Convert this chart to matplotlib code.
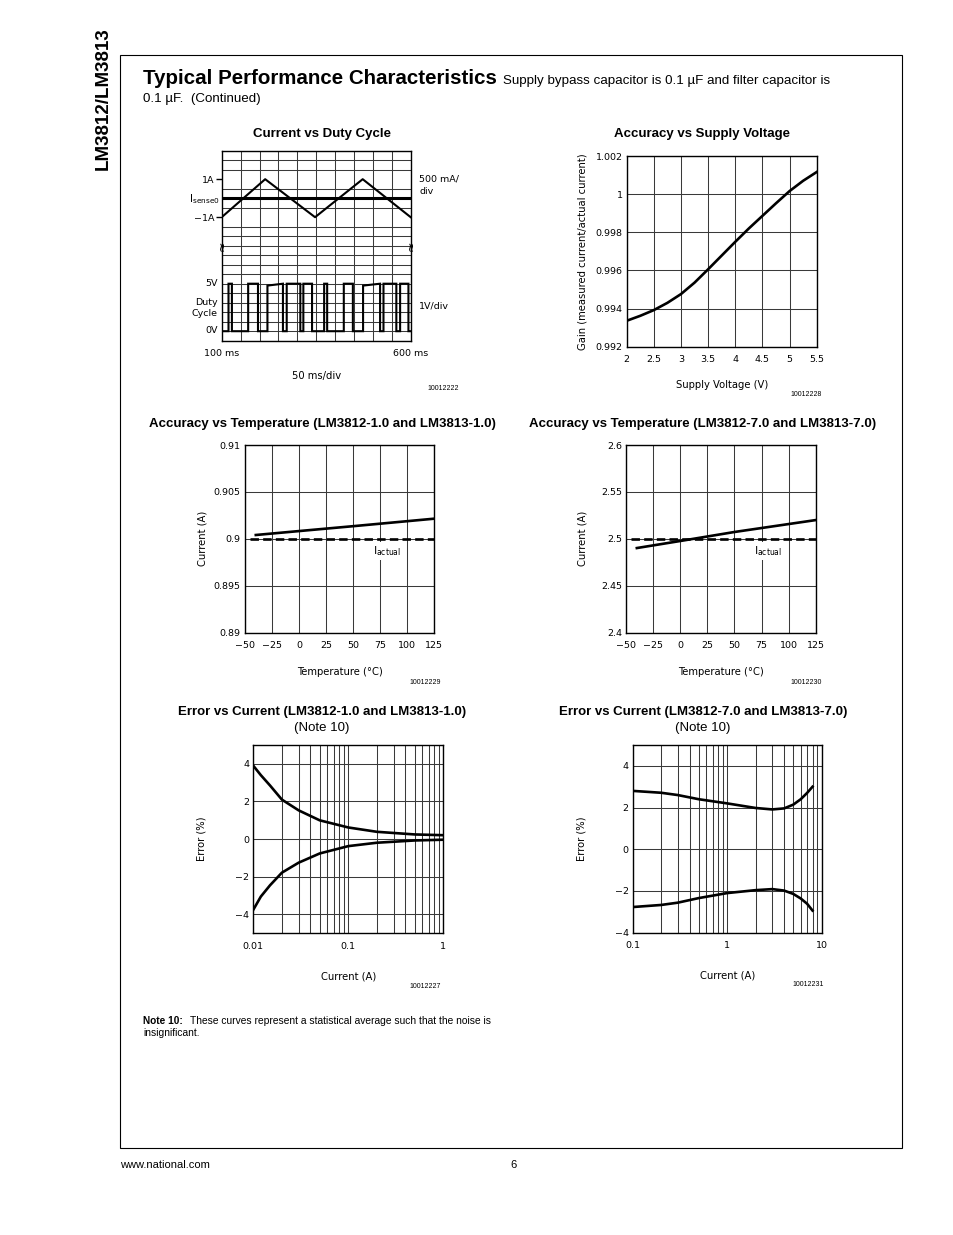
import numpy as np
import matplotlib.pyplot as plt
from matplotlib.patches import Rectangle
from matplotlib.transforms import blended_transform_factory

W, H = 954, 1235

# ---- Current vs Duty Cycle (time in ms, current in A, voltage in V) ----
tri_t = [100, 215, 347, 473, 600]
tri_i = [-1, 1, -1, 1, -1]
pulse_rise = [118, 170, 221, 272, 316, 371, 423, 474, 528, 572]
pulse_fall = [127, 196, 262, 308, 339, 379, 447, 519, 562, 594]
pulse_v_start = [5, 5, 4.8, 5, 5, 5, 5, 4.8, 5, 5]
pulse_v_end = [5, 5, 5, 5, 5, 5, 5, 5, 5, 5]

# ---- Accuracy vs Supply Voltage ----
supply_v = [2, 2.25, 2.5, 2.75, 3, 3.25, 3.5, 3.75, 4, 4.25, 4.5, 4.75, 5, 5.25, 5.5]
gain = [0.99336, 0.99362, 0.99392, 0.99430, 0.99476, 0.99536, 0.99606, 0.99678,
        0.99750, 0.99820, 0.99886, 0.99952, 1.00016, 1.00070, 1.00116]

# ---- Accuracy vs Temperature ----
temp = [-40, 0, 50, 125]
cur_t1 = [0.90041, 0.90083, 0.90135, 0.90215]
cur_t7 = [2.4902, 2.4977, 2.5073, 2.5200]
actual_t = [-45, 125]
actual_1 = 0.9
actual_7 = 2.5

# ---- Error vs Current ----
cur_e1 = [0.01, 0.012, 0.015, 0.02, 0.03, 0.05, 0.1, 0.2, 0.5, 1.0]
err1_hi = [3.9, 3.4, 2.85, 2.1, 1.53, 1.0, 0.62, 0.39, 0.25, 0.21]
err1_lo = [-3.75, -3.05, -2.45, -1.78, -1.25, -0.76, -0.37, -0.19, -0.07, -0.03]
cur_e7 = [0.1, 0.2, 0.3, 0.5, 1, 2, 3, 4, 5, 6, 7, 8]
err7_hi = [2.80, 2.71, 2.60, 2.40, 2.20, 1.98, 1.91, 1.96, 2.14, 2.40, 2.70, 3.00]
err7_lo = [-2.77, -2.67, -2.56, -2.34, -2.10, -1.96, -1.91, -1.98, -2.14, -2.36, -2.61, -2.94]

PAGE = "Liberation Sans"
CHART = "DejaVu Sans"
GRID = "#3a3a3a"
TICK = 6.8
LAB = 7.2

fig = plt.figure(figsize=(W / 100, H / 100), dpi=100)


def ftext(x, y, s, **kw):
    kw.setdefault("family", PAGE)
    fig.text(x / W, 1 - y / H, s, **kw)


def add_ax(l, t, r, b):
    ax = fig.add_axes([l / W, 1 - b / H, (r - l) / W, (b - t) / H])
    for sp in ax.spines.values():
        sp.set_linewidth(1.0)
        sp.set_color("black")
    ax.tick_params(length=0, labelsize=TICK, pad=3)
    return ax


def fix_fonts(ax):
    for lbl in ax.get_xticklabels() + ax.get_yticklabels():
        lbl.set_family(CHART)


def grid(ax, which="major"):
    ax.grid(True, which=which, color=GRID, lw=0.75)
    ax.set_axisbelow(True)


# page frame and page text
fig.add_artist(Rectangle((120 / W, 1 - 1148 / H), 782 / W, 1093 / H,
                         transform=fig.transFigure, fill=False, lw=0.8, color="black"))
ftext(103, 99, "LM3812/LM3813", rotation=90, ha="center", va="center",
      fontsize=13.5, weight="bold")
ftext(143, 84, "Typical Performance Characteristics", fontsize=14.8, weight="bold",
      va="baseline")
ftext(503, 84, "Supply bypass capacitor is 0.1 µF and filter capacitor is", fontsize=9.6,
      va="baseline")
ftext(143, 102, "0.1 µF.  (Continued)", fontsize=9.6, va="baseline")
ftext(143, 1024, "Note 10:", fontsize=7.3, weight="bold", va="baseline")
ftext(190, 1024, "These curves represent a statistical average such that the noise is",
      fontsize=7.4, va="baseline")
ftext(143, 1036, "insignificant.", fontsize=7.4, va="baseline")
ftext(120, 1168, "www.national.com", fontsize=8, va="baseline")
ftext(510, 1168, "6", fontsize=8, va="baseline")

# chart titles
for x, y, s in [(322, 134, "Current vs Duty Cycle"),
                (702, 134, "Accuracy vs Supply Voltage"),
                (322, 424, "Accuracy vs Temperature (LM3812-1.0 and LM3813-1.0)"),
                (703, 424, "Accuracy vs Temperature (LM3812-7.0 and LM3813-7.0)"),
                (322, 712, "Error vs Current (LM3812-1.0 and LM3813-1.0)"),
                (703, 712, "Error vs Current (LM3812-7.0 and LM3813-7.0)")]:
    ftext(x, y, s, ha="center", va="center", fontsize=9.5, weight="bold")
ftext(322, 728, "(Note 10)", ha="center", va="center", fontsize=9.5)
ftext(703, 728, "(Note 10)", ha="center", va="center", fontsize=9.5)

# figure id numbers
for x, y, s in [(443, 389, "10012222"), (806, 395, "10012228"), (425, 683, "10012229"),
                (806, 683, "10012230"), (425, 987, "10012227"), (808, 985, "10012231")]:
    ftext(x, y, s, ha="center", va="center", fontsize=5)

# ---------- Chart 1: Current vs Duty Cycle ----------
ax = add_ax(221.7, 150.7, 410.7, 340.7)
ax.set_xlim(100, 600)
ax.set_ylim(0, 20)
ax.set_xticks(np.arange(100, 601, 50), minor=True)
ax.set_yticks(np.arange(0, 21, 1), minor=True)
ax.tick_params(which="minor", length=0)
grid(ax, "minor")
ax.set_xticks([100, 600], ["100 ms", "600 ms"])
ax.set_yticks([13, 17], ["−1A", "1A"])
ax.tick_params(axis="y", which="major", length=4, width=1, pad=1, direction="out")
ax.tick_params(axis="x", which="major", pad=6)
fix_fonts(ax)
ax.set_xlabel("50 ms/div", fontsize=LAB, family=CHART, labelpad=9)

cur_div = [15 + i / 0.5 for i in tri_i]
ax.plot(tri_t, cur_div, color="black", lw=1.5)
ax.axhline(15 + 0 / 0.5, color="black", lw=2.2)

pwm_t, pwm_v = [100], [0]
for r, f, vs, ve in zip(pulse_rise, pulse_fall, pulse_v_start, pulse_v_end):
    pwm_t += [r, r, f, f]
    pwm_v += [0, vs, ve, 0]
pwm_t.append(600)
pwm_v.append(0)
ax.plot(pwm_t, [1 + v for v in pwm_v], color="black", lw=1.5, solid_joinstyle="miter")

tr = blended_transform_factory(ax.transAxes, ax.transData)
ax.text(-0.012, 14.9, r"$\mathregular{I_{sense0}}$", transform=tr, ha="right", va="center",
        fontsize=7.6, family=CHART)
ax.text(-0.02, 6.05, "5V", transform=tr, ha="right", va="center", fontsize=TICK, family=CHART)
ax.text(-0.02, 3.45, "Duty\nCycle", transform=tr, ha="right", va="center", fontsize=TICK,
        family=CHART, linespacing=1.2)
ax.text(-0.02, 1.1, "0V", transform=tr, ha="right", va="center", fontsize=TICK, family=CHART)
ax.text(1.045, 17.0, "500 mA/", transform=tr, ha="left", va="center", fontsize=TICK, family=CHART)
ax.text(1.045, 15.75, "div", transform=tr, ha="left", va="center", fontsize=TICK, family=CHART)
ax.text(1.045, 3.65, "1V/div", transform=tr, ha="left", va="center", fontsize=TICK, family=CHART)
for xa in (0, 1):
    ax.text(xa, 10, "≈", transform=tr, ha="center", va="center", rotation=90,
            fontsize=9, family=CHART, clip_on=False)

# ---------- Chart 2: Accuracy vs Supply Voltage ----------
ax = add_ax(626.7, 156, 816.7, 346.7)
ax.set_xlim(2, 5.5)
ax.set_ylim(0.992, 1.002)
ax.set_xticks([2, 2.5, 3, 3.5, 4, 4.5, 5, 5.5], ["2", "2.5", "3", "3.5", "4", "4.5", "5", "5.5"])
ax.set_yticks([0.992, 0.994, 0.996, 0.998, 1.0, 1.002],
              ["0.992", "0.994", "0.996", "0.998", "1", "1.002"])
ax.tick_params(axis="x", pad=6)
fix_fonts(ax)
grid(ax)
ax.plot(supply_v, gain, color="black", lw=1.9)
ax.set_xlabel("Supply Voltage (V)", fontsize=LAB, family=CHART)
ax.xaxis.set_label_coords(0.5, -(380 - 346.7) / 190.7)
ax.set_ylabel("Gain (measured current/actual current)", fontsize=LAB, family=CHART)
ax.yaxis.set_label_coords(-(626.7 - 588) / 190, 0.5)

# ---------- Charts 3 & 4: Accuracy vs Temperature ----------
for rect, ylab_x, cur, act, ylim, yt, ytl in [
        ((245, 445, 434.3, 632.7), 208, cur_t1, actual_1, (0.89, 0.91),
         [0.89, 0.895, 0.9, 0.905, 0.91], ["0.89", "0.895", "0.9", "0.905", "0.91"]),
        ((626, 445, 815.7, 632.7), 588, cur_t7, actual_7, (2.4, 2.6),
         [2.4, 2.45, 2.5, 2.55, 2.6], ["2.4", "2.45", "2.5", "2.55", "2.6"])]:
    ax = add_ax(*rect)
    ax.set_xlim(-50, 125)
    ax.set_ylim(*ylim)
    ax.set_xticks(np.arange(-50, 126, 25),
                  ["−50", "−25", "0", "25", "50", "75", "100", "125"])
    ax.set_yticks(yt, ytl)
    ax.tick_params(axis="x", pad=6)
    fix_fonts(ax)
    grid(ax)
    ax.plot(actual_t, [act, act], color="black", lw=1.9, ls=(0, (3.2, 1.6)))
    ax.plot(temp, cur, color="black", lw=1.9)
    span = ylim[1] - ylim[0]
    ax.text(68, act - 0.065 * span, r"$\mathregular{I_{actual}}$", ha="left", va="center",
            fontsize=7.8, family=CHART,
            bbox=dict(boxstyle="square,pad=0.2", facecolor="white", edgecolor="none"))
    ax.set_xlabel("Temperature (°C)", fontsize=LAB, family=CHART)
    ax.xaxis.set_label_coords(0.5, -(667 - 632.7) / 187.7)
    ax.set_ylabel("Current (A)", fontsize=LAB, family=CHART)
    ax.yaxis.set_label_coords(-(rect[0] - ylab_x) / (rect[2] - rect[0]), 0.5)

# ---------- Charts 5 & 6: Error vs Current ----------
for rect, ylab_x, cur, hi, lo, xlim, xt, xtl, ylim in [
        ((253.3, 745, 443.3, 933.3), 207, cur_e1, err1_hi, err1_lo, (0.01, 1),
         [0.01, 0.1, 1], ["0.01", "0.1", "1"], (-5, 5)),
        ((632.7, 745, 821.7, 932.7), 587, cur_e7, err7_hi, err7_lo, (0.1, 10),
         [0.1, 1, 10], ["0.1", "1", "10"], (-4, 5))]:
    ax = add_ax(*rect)
    ax.set_xscale("log")
    ax.set_xlim(*xlim)
    ax.set_ylim(*ylim)
    ax.set_xticks(xt, xtl)
    ax.set_yticks([-4, -2, 0, 2, 4], ["−4", "−2", "0", "2", "4"])
    ax.tick_params(which="both", length=0)
    ax.tick_params(axis="x", pad=6)
    fix_fonts(ax)
    ax.xaxis.set_minor_formatter(plt.NullFormatter())
    ax.grid(True, which="both", axis="x", color=GRID, lw=0.75)
    ax.grid(True, which="major", axis="y", color=GRID, lw=0.75)
    ax.set_axisbelow(True)
    ax.plot(cur, hi, color="black", lw=1.9)
    ax.plot(cur, lo, color="black", lw=1.9)
    ax.set_xlabel("Current (A)", fontsize=LAB, family=CHART)
    ax.xaxis.set_label_coords(0.5, -(971 - rect[3]) / 188)
    ax.set_ylabel("Error (%)", fontsize=LAB, family=CHART)
    ax.yaxis.set_label_coords(-(rect[0] - ylab_x) / (rect[2] - rect[0]), 0.5)

fig.savefig("out.png", dpi=100)
